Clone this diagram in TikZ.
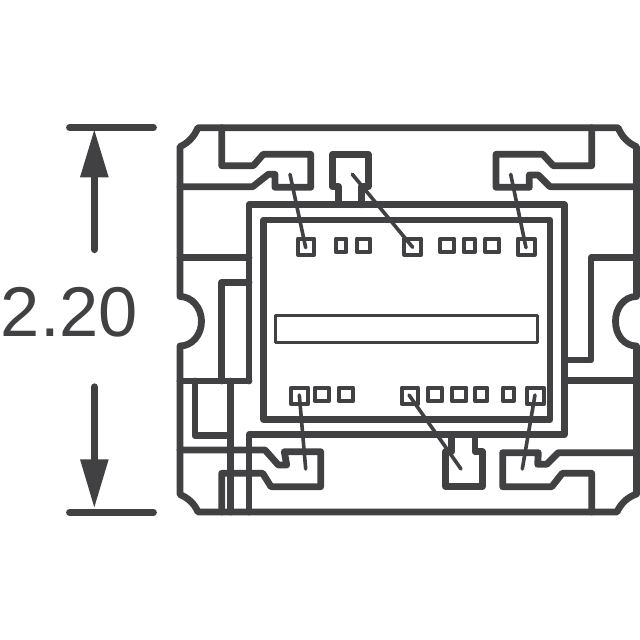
\documentclass[tikz,border=0pt]{standalone}
\usepackage{fontspec}
\setmainfont{Liberation Sans}
\definecolor{ink}{HTML}{414042}
\tikzset{
  thick line/.style={draw=ink,line width=6.8pt,line join=round,line cap=round},
  pad line/.style={draw=ink,line width=3.9pt,line join=round},
  wire line/.style={draw=ink,line width=3.6pt,line cap=round},
  strip line/.style={draw=ink,line width=3.2pt,line join=round},
  dim shaft/.style={draw=ink,line width=7.3pt,line cap=round},
  dim head/.style={fill=ink,draw=none},
  dim label/.style={text=ink,inner sep=0pt,anchor=base west,font=\fontsize{70.5}{70.5}\selectfont}
}
\begin{document}
\begin{tikzpicture}[x=1pt,y=-1pt]
\useasboundingbox (0,0) rectangle (640,640);
% outline
\draw[thick line] (198,127.7) -- (618,127.7)
  .. controls (622,137) and (628,143) .. (636.5,146.7) -- (636.5,296.5)
  .. controls (624,296.5) and (615.5,308) .. (615.5,321.2)
  .. controls (615.5,335) and (624,346) .. (636.5,346) -- (636.5,494)
  .. controls (628,497) and (621,503) .. (617,512) -- (198,512)
  .. controls (194,503) and (188,498) .. (180,494.5) -- (180,346)
  .. controls (192,346) and (201.5,335) .. (201.5,321.2)
  .. controls (201.5,308) and (192,296.5) .. (180,296.5) -- (180,146.7)
  .. controls (188,143) and (194,137) .. (198,127.7) -- cycle;
% chip frames
\draw[thick line] (249,512) -- (249,434.7) -- (564.3,434.7) -- (564.3,204.7) -- (249,204.7) -- (249,381);
\draw[thick line] (263.7,220) rectangle (550,419.7);
% top left lead
\draw[thick line] (221.7,127.7) -- (221.7,165.7) -- (253.3,165.7) -- (263.3,154.3) -- (310.7,154.3) -- (310.7,187.3) -- (275,187.3) -- (275,174.3) -- (268.3,174.3) -- (252.7,186.7) -- (180,186.7);
% top middle pad
\draw[thick line] (338.3,204.7) -- (338.3,186.7) -- (332.3,186.7) -- (332.3,154.3) -- (368.3,154.3) -- (368.3,186.7) -- (361.7,186.7) -- (361.7,204.7);
% top right lead
\draw[thick line] (591.7,127.7) -- (591.7,165.7) -- (553.3,165.7) -- (542.7,154.3) -- (496,154.3) -- (496,187.3) -- (529.3,187.3) -- (529.3,175) -- (538.3,175) -- (550,186.7) -- (636.5,186.7);
% left side
\draw[thick line] (180,257.7) -- (249,257.7);
\draw[thick line] (249,282.7) -- (221.7,282.7) -- (221.7,381);
\draw[thick line] (180,381) -- (249,381);
\draw[thick line] (195,381) -- (195,435.7) -- (230.7,435.7);
\draw[thick line] (230.7,381) -- (230.7,512);
% bottom left lead
\draw[thick line] (180,450) -- (265,450) -- (278.3,465) -- (286.7,465) -- (284.3,451.7) -- (320.7,451.7) -- (320.7,486.7) -- (271,486.7) -- (262.7,473.3) -- (221.7,473.3) -- (221.7,512);
% bottom middle pad
\draw[thick line] (451.7,434.7) -- (451.7,451.7) -- (445.7,451.7) -- (445.7,486.7) -- (482.3,486.7) -- (482.3,451.7) -- (475,451.7) -- (475,434.7);
% bottom right lead
\draw[thick line] (636.5,452.7) -- (558.3,452.7) -- (546.7,464.3) -- (537.7,464.3) -- (538.3,452.7) -- (502.7,452.7) -- (502.7,486.7) -- (551.7,486.7) -- (562.3,473.3) -- (591.7,473.3) -- (591.7,512);
% right side
\draw[thick line] (564.3,360) -- (591,360) -- (591,257.7) -- (636.5,257.7);
\draw[thick line] (564.3,380.7) -- (636.5,380.7);
% strip
\draw[strip line] (275.8,315.2) rectangle (537.8,342.2);
% pads
\foreach \a/\b/\c/\d in {296/316/236.7/256.7,334/348.3/236.7/254,355/372.3/236.7/254,402.3/423/236.7/256.7,438.3/456/236.7/254,461.7/476.7/236.7/254,483.3/501/236.7/254,516/536.7/236.7/256.7,
  289.3/310/385.7/406,312.7/330.7/385.7/403,336.7/355/385.7/403,400/420/385.7/406,426/444/385.7/403,450/468.3/385.7/403,473.3/489.3/385.7/403,501/515.7/385.7/403,525/545.7/385.7/406}
  \draw[pad line] (\a+1.9,\c+1.9) rectangle (\b-1.9,\d-1.9);
% wires
\draw[wire line] (290,174.3) -- (305.7,247.7);
\draw[wire line] (352.3,174.3) -- (412.7,247.3);
\draw[wire line] (510.7,174.3) -- (526,247.7);
\draw[wire line] (299.3,395) -- (305.7,469);
\draw[wire line] (409,395) -- (461,469);
\draw[wire line] (535,395) -- (522.3,469);
% dimension
\coordinate (barTopL) at (69.5,127.7);
\coordinate (barTopR) at (153.5,127.7);
\coordinate (barBotL) at (69.5,512.3);
\coordinate (barBotR) at (153.5,512.3);
\draw[thick line] (barTopL) -- (barTopR);
\draw[thick line] (barBotL) -- (barBotR);
\coordinate (shaftTopA) at (94.3,170);
\coordinate (shaftTopB) at (94.3,249.5);
\coordinate (shaftBotA) at (94.3,387);
\coordinate (shaftBotB) at (94.3,465);
\draw[dim shaft] (shaftTopA) -- (shaftTopB);
\draw[dim shaft] (shaftBotA) -- (shaftBotB);
\fill[dim head] (94.3,130) -- (108.7,177.3) -- (80,177.3) -- cycle;
\fill[dim head] (94.3,507.3) -- (108.7,459.3) -- (80,459.3) -- cycle;
\node[dim label] (dimtext) at (0.7,336) {2.20};
\end{tikzpicture}
\end{document}
